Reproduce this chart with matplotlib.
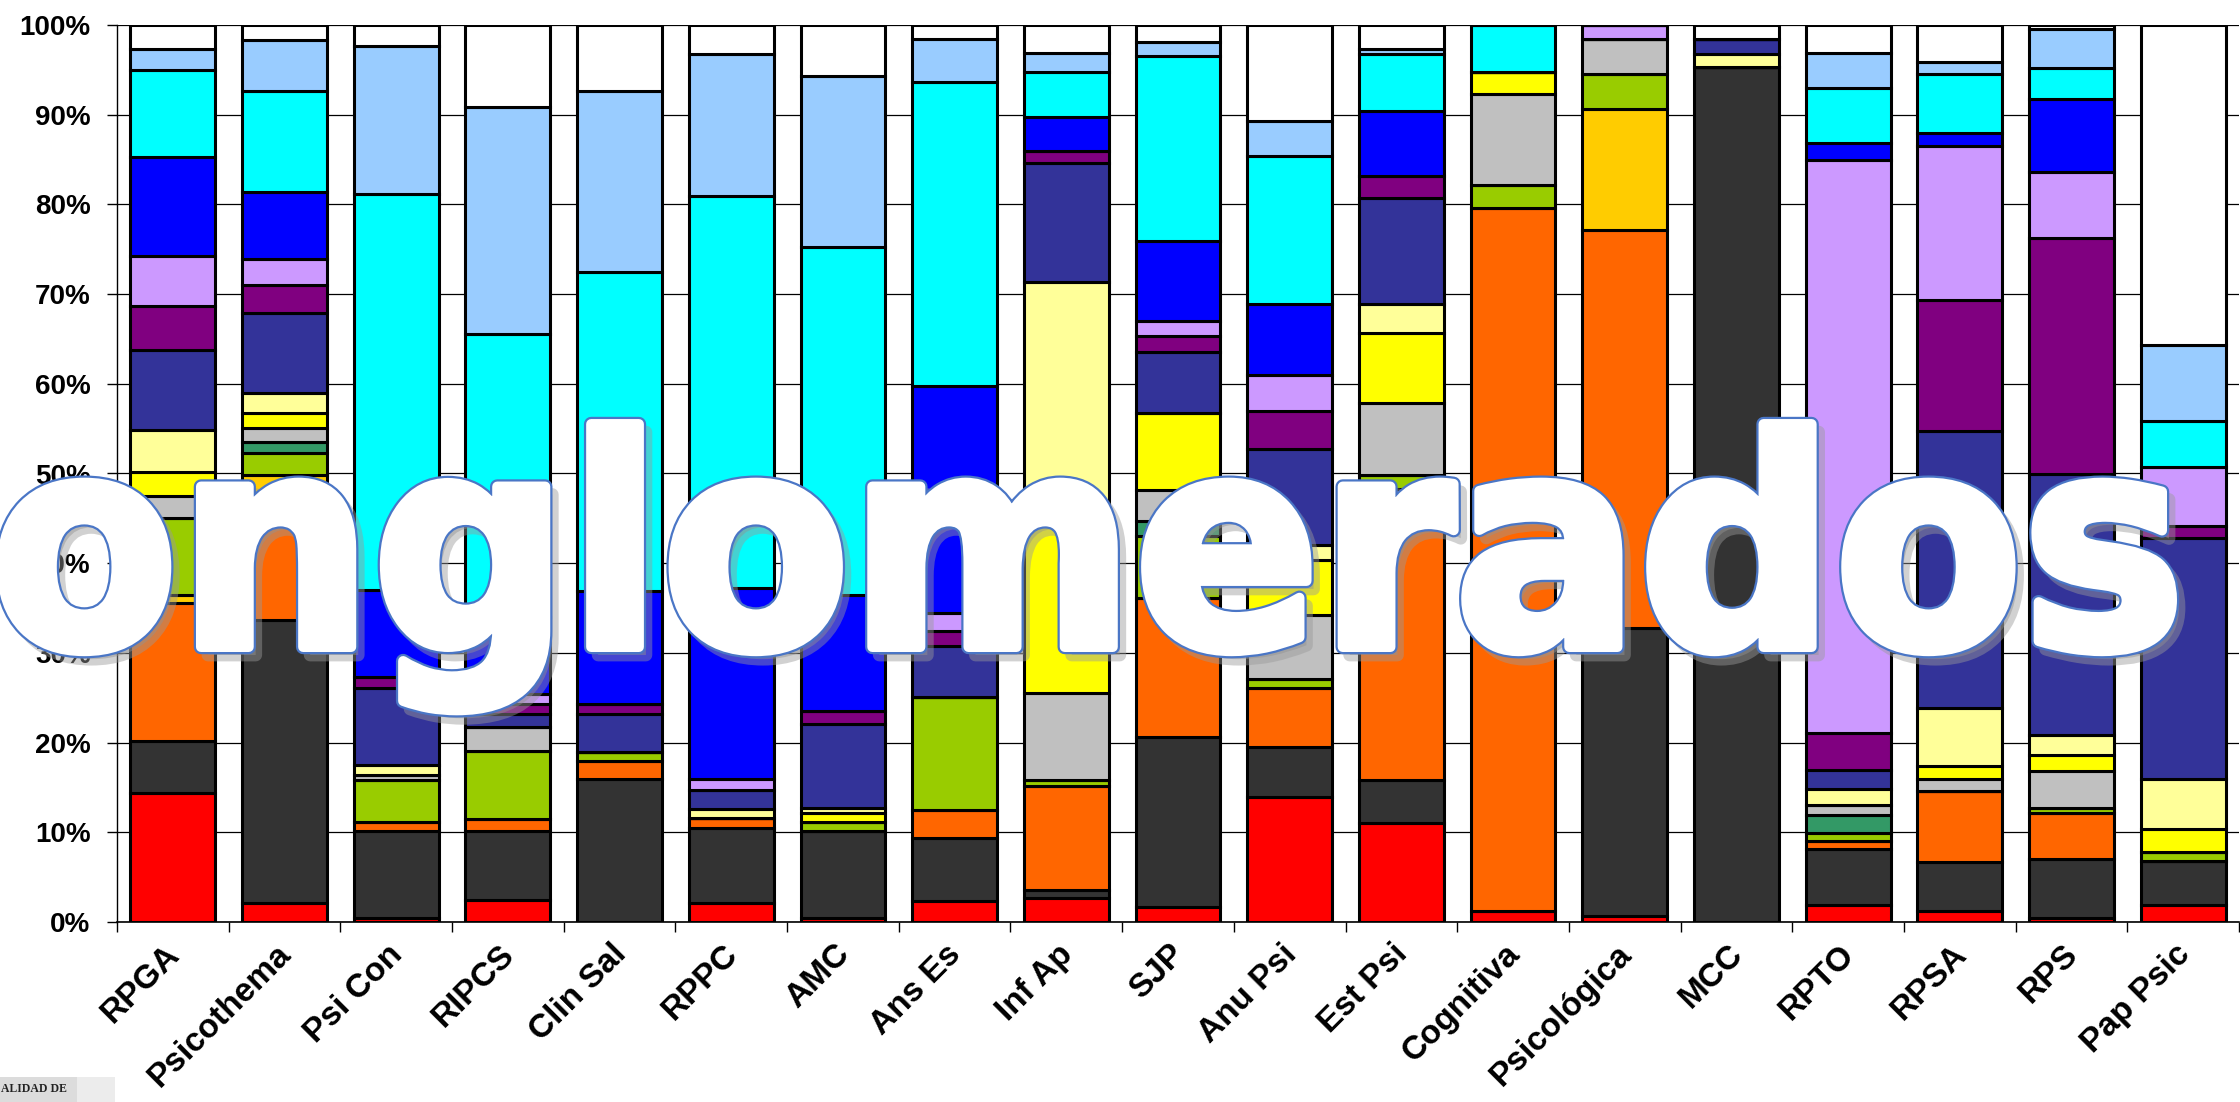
import matplotlib
matplotlib.use("Agg")
import matplotlib.pyplot as plt
import numpy as np
from matplotlib.textpath import TextPath
from matplotlib.patches import PathPatch, Rectangle
from matplotlib.transforms import Affine2D, ScaledTranslation
from matplotlib.font_manager import FontProperties

# journals (x axis)
journals = ["RPGA", "Psicothema", "Psi Con", "RIPCS", "Clin Sal", "RPPC", "AMC",
            "Ans Es", "Inf Ap", "SJP", "Anu Psi", "Est Psi", "Cognitiva",
            "Psicológica", "MCC", "RPTO", "RPSA", "RPS", "Pap Psic"]

# share (%) of each cluster per journal, bottom to top
red      = [14.4, 2.1, 0.4, 2.4, 0, 2.1, 0.4, 2.3, 2.7, 1.7, 13.9, 11.0, 1.2, 0.7, 0, 1.9, 1.2, 0.5, 1.9]
dgray    = [5.8, 31.6, 9.8, 7.8, 15.9, 8.4, 9.8, 7.1, 0.9, 18.9, 5.6, 4.8, 0, 32.1, 95.3, 6.2, 5.5, 6.5, 4.9]
orange   = [15.4, 13.8, 1.0, 1.3, 2.0, 1.1, 0, 3.1, 11.6, 15.5, 6.6, 32.5, 78.4, 44.4, 0, 0.9, 7.9, 5.2, 0]
gold     = [0.8, 2.3, 0, 0, 0, 0, 0, 0, 0, 0, 0, 0, 0, 13.4, 0, 0, 0, 0, 0]
green    = [8.6, 2.5, 4.6, 7.6, 1.0, 0, 0.9, 12.6, 0.6, 6.9, 1.0, 1.5, 2.6, 3.9, 0, 0.9, 0, 0.5, 1.0]
seagreen = [0, 1.2, 0, 0, 0, 0, 0, 0, 0, 1.7, 0, 0, 0, 0, 0, 2.0, 0, 0, 0]
silver   = [2.5, 1.6, 0.6, 2.6, 0, 0, 0, 0, 9.7, 3.5, 7.1, 8.1, 10.1, 3.9, 0, 1.1, 1.3, 4.1, 0]
yellow   = [2.7, 1.7, 0, 0, 0, 0, 1.1, 0, 19.5, 8.6, 6.2, 7.8, 2.5, 0, 0, 0, 1.5, 1.8, 2.6]
lyellow  = [4.7, 2.2, 1.1, 0, 0, 1.0, 0.5, 0, 26.4, 0, 1.6, 3.2, 0, 0, 1.5, 1.8, 6.5, 2.3, 5.5]
dblue    = [8.9, 8.9, 8.6, 1.5, 4.3, 2.1, 9.4, 5.7, 13.2, 6.8, 10.7, 11.8, 0, 0, 1.6, 2.2, 30.8, 29.1, 26.9]
purple   = [4.9, 3.1, 1.2, 1.1, 1.1, 0, 1.4, 1.6, 1.4, 1.7, 4.3, 2.5, 0, 0, 0, 4.1, 14.6, 26.2, 1.3]
lavender = [5.6, 2.9, 0, 1.1, 0, 1.2, 0, 2.1, 0, 1.7, 4.0, 0, 0, 1.6, 0, 63.9, 17.2, 7.4, 6.6]
blue     = [11.0, 7.5, 9.7, 8.6, 12.6, 21.3, 13.0, 25.3, 3.7, 8.9, 7.9, 7.2, 0, 0, 0, 1.9, 1.5, 8.2, 0]
cyan     = [9.7, 11.2, 44.2, 31.5, 35.6, 43.7, 38.8, 33.9, 5.1, 20.6, 16.5, 6.4, 5.2, 0, 0, 6.1, 6.5, 3.4, 5.2]
lblue    = [2.3, 5.7, 16.5, 25.4, 20.1, 15.9, 19.0, 4.7, 2.1, 1.6, 3.9, 0.5, 0, 0, 0, 3.9, 1.4, 4.3, 8.4]
white    = [2.7, 1.7, 2.3, 9.1, 7.4, 3.2, 5.7, 1.6, 3.1, 1.9, 10.7, 2.7, 0, 0, 1.6, 3.1, 4.1, 0.5, 35.7]

series = [red, dgray, orange, gold, green, seagreen, silver, yellow, lyellow,
          dblue, purple, lavender, blue, cyan, lblue, white]
colors = ["#FF0000", "#333333", "#FF6600", "#FFCC00", "#99CC00", "#339966", "#C0C0C0",
          "#FFFF00", "#FFFF99", "#333399", "#800080", "#CC99FF", "#0000FF", "#00FFFF",
          "#99CCFF", "#FFFFFF"]

W, H = 2240, 1102
fig = plt.figure(figsize=(W / 100, H / 100), dpi=100)
ax = fig.add_axes([117 / W, 180 / H, 2122 / W, 897 / H])

x = np.arange(len(journals))
bottom = np.zeros(len(journals))
for vals, c in zip(series, colors):
    v = np.array(vals, dtype=float)
    ax.bar(x, v, bottom=bottom, width=0.76, color=c, edgecolor="black",
           linewidth=2.2, zorder=2)
    bottom += v

ax.set_xlim(-0.5, len(journals) - 0.5)
ax.set_ylim(0, 100)
ax.set_yticks(np.arange(0, 101, 10))
ax.set_yticklabels([f"{t}%" for t in range(0, 101, 10)],
                   fontfamily="Liberation Sans", fontweight="bold", fontsize=20)
ax.yaxis.grid(True, color="black", linewidth=0.9, zorder=0)
ax.set_axisbelow(True)
ax.tick_params(axis="y", length=7, width=1, pad=12)

ax.set_xticks(x)
ax.set_xticklabels(journals, rotation=45, ha="right", rotation_mode="anchor",
                   fontfamily="Liberation Sans", fontweight="bold", fontsize=24)
ax.set_xticks(np.arange(-0.5, len(journals), 1.0), minor=True)
ax.tick_params(axis="x", which="major", length=0, pad=12)
ax.tick_params(axis="x", which="minor", length=7, width=1)
shift = ScaledTranslation(-0.09, 0, fig.dpi_scale_trans)
for lbl in ax.get_xticklabels():
    lbl.set_transform(lbl.get_transform() + shift)

for s in ["top", "right"]:
    ax.spines[s].set_visible(False)
ax.spines["left"].set_linewidth(1)
ax.spines["bottom"].set_linewidth(1.2)

# small logo fragment in the bottom-left corner
fig.add_artist(Rectangle((0, 0), 115 / W, 25 / H, transform=fig.transFigure,
                         facecolor="#ececec", edgecolor="none"))
fig.add_artist(Rectangle((0, 0), 77 / W, 25 / H, transform=fig.transFigure,
                         facecolor="#dcdcdc", edgecolor="none"))
fig.text(1 / W, 13 / H, "ALIDAD DE", fontsize=8.5, fontfamily="Liberation Serif",
         fontweight="bold", color="#222222", va="center")

# big overlay word (emboldened with a wide white stroke)
tp = TextPath((0, 0), "onglomerados", size=1,
              prop=FontProperties(family="DejaVu Sans", weight="bold"))
ext = tp.get_extents()
grow = 5
x0, x1 = -3 + grow, 2177 - grow
base = H - 652 + grow
em = (652 - 419 - 2 * grow) / 0.76
sx = (x1 - x0) / ext.width
to_fig = Affine2D().scale(1 / W, 1 / H)
main = Affine2D().translate(-ext.x0, 0).scale(sx, em).translate(x0, base)
shadow = main + Affine2D().translate(7, -8)
lw_fill = 2 * grow * 0.72

fig.add_artist(PathPatch((shadow + to_fig).transform_path(tp), transform=fig.transFigure,
                         facecolor="#8c8c8c", edgecolor="#9a9a9a", linewidth=lw_fill + 2,
                         joinstyle="round", alpha=0.45, zorder=10))
fig.add_artist(PathPatch((main + to_fig).transform_path(tp), transform=fig.transFigure,
                         facecolor="white", edgecolor="#4a76c6", linewidth=lw_fill + 3.2,
                         joinstyle="round", zorder=11))
fig.add_artist(PathPatch((main + to_fig).transform_path(tp), transform=fig.transFigure,
                         facecolor="white", edgecolor="white", linewidth=lw_fill,
                         joinstyle="round", zorder=12))

fig.savefig("out.png", dpi=100)
